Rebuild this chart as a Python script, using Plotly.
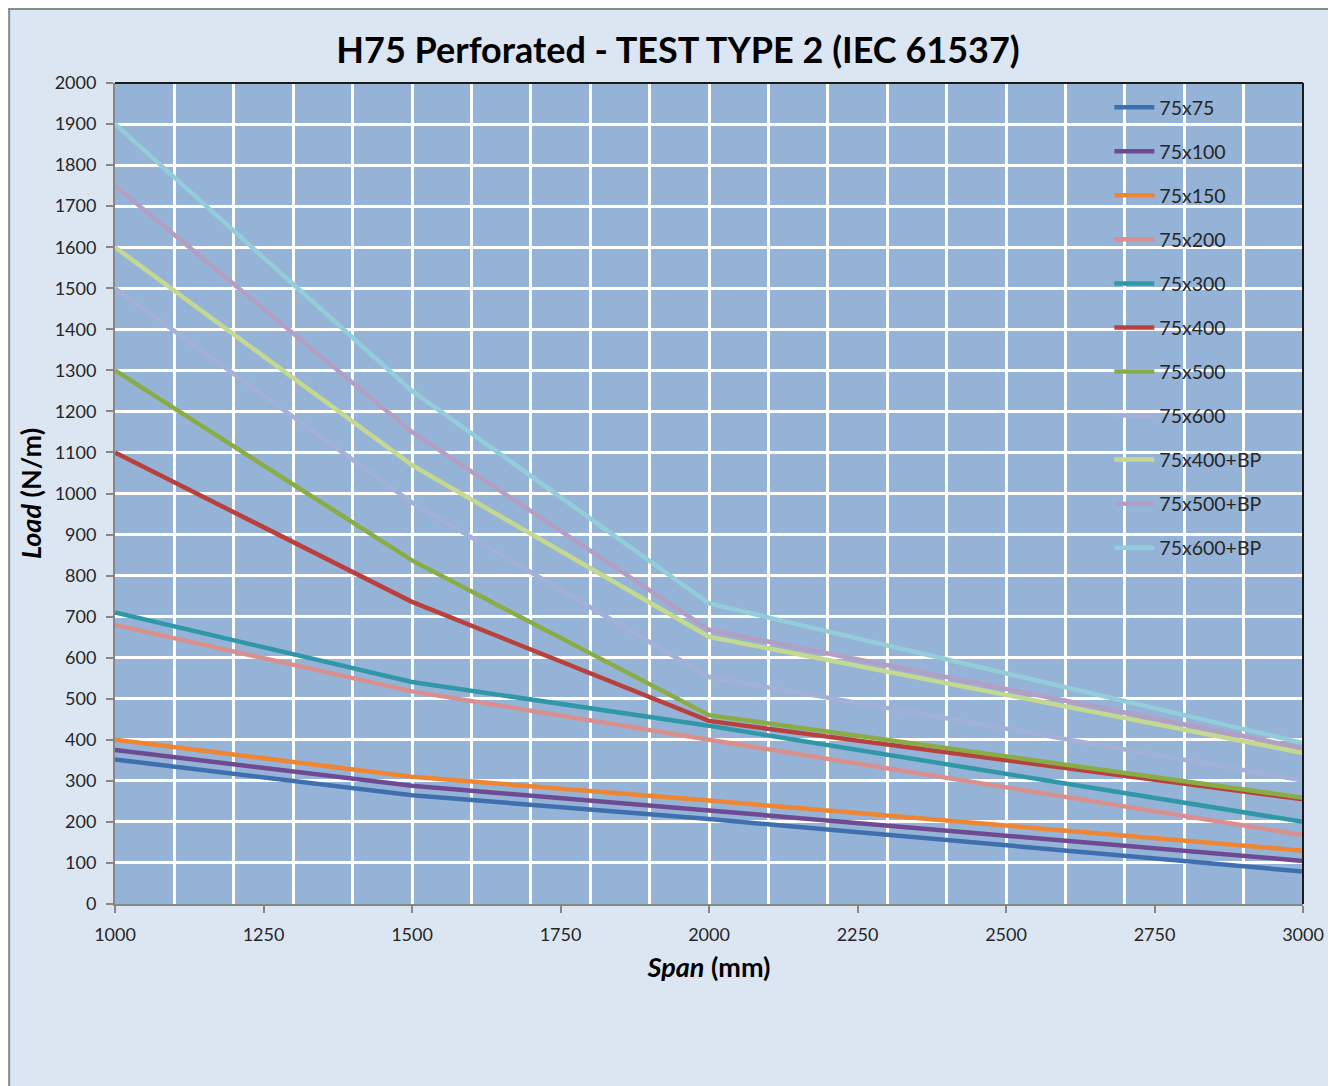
import plotly.graph_objects as go

spans = [1000, 1500, 2000, 3000]

series_names = ["75x75", "75x100", "75x150", "75x200", "75x300", "75x400",
                "75x500", "75x600", "75x400+BP", "75x500+BP", "75x600+BP"]

load_75x75 = [352, 265, 207, 79]
load_75x100 = [375, 288, 228, 105]
load_75x150 = [400, 310, 252, 130]
load_75x200 = [680, 518, 400, 168]
load_75x300 = [710, 541, 434, 200]
load_75x400 = [1100, 736, 446, 255]
load_75x500 = [1300, 837, 460, 259]
load_75x600 = [1500, 978, 553, 301]
load_75x400bp = [1600, 1069, 651, 368]
load_75x500bp = [1750, 1150, 668, 380]
load_75x600bp = [1900, 1250, 732, 392]

series_values = [load_75x75, load_75x100, load_75x150, load_75x200, load_75x300,
                 load_75x400, load_75x500, load_75x600, load_75x400bp,
                 load_75x500bp, load_75x600bp]

colors = ["#3f6faf", "#6f4a92", "#ef8531", "#d98f8c", "#2f97a8", "#b8403d",
          "#8aac45", "#a3b0d8", "#c4d98f", "#b39fc4", "#93cdd9"]

x_ticks = [1000, 1250, 1500, 1750, 2000, 2250, 2500, 2750, 3000]

fig = go.Figure()
for name, vals, col in zip(series_names, series_values, colors):
    fig.add_trace(go.Scatter(x=spans, y=vals, mode="lines", name=name,
                             legendgroup=name,
                             line=dict(color=col, width=4.5)))

# figure geometry (page has an 8px body margin)
FW, FH = 1328, 1078
L, R, T, B = 107, 1297, 75, 896
W, H = R - L, B - T
def px(x):
    return (x - L) / W
def py(y):
    return (B - y) / H

shapes = [
    # chart area border (left and top visible)
    dict(type="line", xref="paper", yref="paper",
         x0=px(1), x1=px(1), y0=py(0), y1=py(FH),
         line=dict(color="#8a8a8a", width=2)),
    dict(type="line", xref="paper", yref="paper",
         x0=px(0), x1=px(FW), y0=py(1), y1=py(1),
         line=dict(color="#8a8a8a", width=2)),
    # dark top and right plot border
    dict(type="line", xref="paper", yref="paper", x0=0, x1=1, y0=1, y1=1,
         line=dict(color="#1a1a1a", width=2)),
    dict(type="line", xref="paper", yref="paper", x0=1, x1=1, y0=0, y1=1,
         line=dict(color="#1a1a1a", width=2)),
]

font_family = "Lato, 'Open Sans', sans-serif"

fig.update_layout(
    width=FW, height=FH,
    margin=dict(l=L, r=FW - R, t=T, b=FH - B),
    paper_bgcolor="#dce6f2",
    plot_bgcolor="#95b3d7",
    shapes=shapes,
    font=dict(family=font_family, size=18, color="#262626"),
    title=dict(text="<b>H75 Perforated - TEST TYPE 2 (IEC 61537)</b>",
               x=670 / FW, xanchor="center", xref="container",
               y=1 - 42 / FH, yanchor="middle", yref="container",
               font=dict(size=36, color="#000000", family=font_family)),
    showlegend=True,
    legend=dict(x=px(1103), y=py(80), xanchor="left", yanchor="top",
                bgcolor="rgba(0,0,0,0)", tracegroupgap=15.7,
                font=dict(size=19.5, color="#262626"), itemwidth=40),
    xaxis=dict(range=[1000, 3000], tickmode="array", tickvals=x_ticks,
               showgrid=False, ticks="outside", ticklen=7, tickcolor="#868686",
               tickwidth=1.5, ticklabelstandoff=6,
               showline=True, linecolor="#868686", linewidth=2,
               zeroline=False,
               minor=dict(dtick=100, tick0=1000, showgrid=True,
                          gridcolor="white", gridwidth=2.5, ticks=""),
               tickfont=dict(size=18, color="#262626"),
               title=dict(text="<b><i>Span</i> (mm)</b>", standoff=15,
                          font=dict(size=27, color="#000000"))),
    yaxis=dict(range=[0, 2000], dtick=100, tick0=0,
               showgrid=True, gridcolor="white", gridwidth=2.5,
               ticks="outside", ticklen=7, tickcolor="#868686", tickwidth=1.5,
               ticklabelstandoff=6,
               showline=True, linecolor="#868686", linewidth=2,
               zeroline=False,
               tickfont=dict(size=18, color="#262626"),
               title=dict(text="<b><i>Load</i> (N/m)</b>", standoff=5,
                          font=dict(size=27, color="#000000"))),
)

fig.write_html("out.html")
